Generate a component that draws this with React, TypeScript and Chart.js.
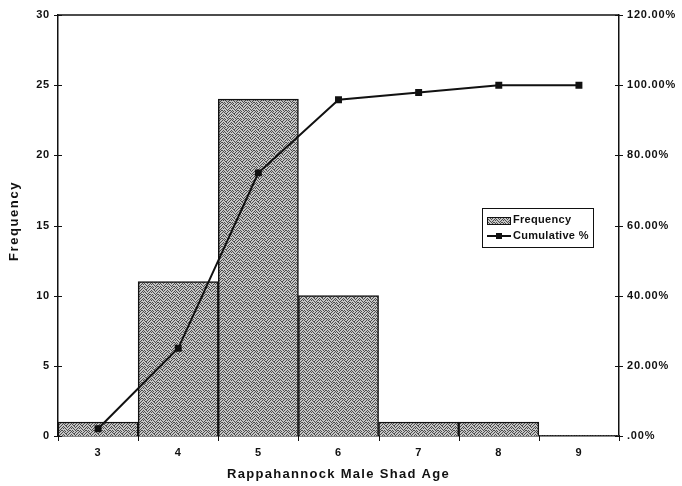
import React, { useEffect, useRef } from "react";
import { Chart, registerables } from "chart.js";

Chart.register(...registerables);

const ages = ["3", "4", "5", "6", "7", "8", "9"];
const frequency = [1, 11, 24, 10, 1, 1, 0];
const cumulativePct = [2.08, 25.0, 75.0, 95.83, 97.92, 100.0, 100.0];
const xTitle = "Rappahannock Male Shad Age";
const yTitle = "Frequency";
const legendLabels = ["Frequency", "Cumulative %"];

const FONT = "'Liberation Sans', Arial, sans-serif";

function makePattern(): CanvasPattern | string {
  const c = document.createElement("canvas");
  c.width = 8;
  c.height = 8;
  const g = c.getContext("2d");
  if (!g) return "#999999";
  g.fillStyle = "#c6c6c6";
  g.fillRect(0, 0, 8, 8);
  g.fillStyle = "#4c4c4c";
  const dots = [
    [0, 0], [3, 0], [6, 0], [1, 1], [5, 1], [2, 2], [4, 2], [7, 2],
    [0, 3], [3, 3], [6, 3], [1, 4], [5, 4], [7, 4], [2, 5], [4, 5],
    [0, 6], [3, 6], [6, 6], [1, 7], [4, 7], [7, 7], [5, 6], [2, 1],
  ];
  dots.forEach(([x, y]) => g.fillRect(x, y, 1, 1));
  const p = g.createPattern(c, "repeat");
  return p || "#999999";
}

export default function App() {
  const ref = useRef<HTMLCanvasElement | null>(null);

  useEffect(() => {
    if (!ref.current) return;
    const pattern = makePattern();

    const spacing = {
      id: "spacing",
      beforeDraw(chart: any) {
        (chart.ctx as any).letterSpacing = "0.8px";
      },
    };

    const decor = {
      id: "decor",
      afterDraw(chart: any) {
        const ctx = chart.ctx;
        const a = chart.chartArea;
        const x = chart.scales.x;
        const y = chart.scales.y;
        const y1 = chart.scales.y1;
        ctx.save();
        ctx.strokeStyle = "#111";
        ctx.lineWidth = 1.5;
        ctx.beginPath();
        ctx.moveTo(a.left, a.top);
        ctx.lineTo(a.right, a.top);
        ctx.stroke();
        ctx.lineWidth = 1;
        [0, 5, 10, 15, 20, 25, 30].forEach((v) => {
          const py = Math.round(y.getPixelForValue(v)) + 0.5;
          ctx.beginPath();
          ctx.moveTo(a.left - 4, py);
          ctx.lineTo(a.left + 4, py);
          ctx.stroke();
        });
        [0, 20, 40, 60, 80, 100, 120].forEach((v) => {
          const py = Math.round(y1.getPixelForValue(v)) + 0.5;
          ctx.beginPath();
          ctx.moveTo(a.right - 4, py);
          ctx.lineTo(a.right + 4, py);
          ctx.stroke();
        });
        const n = ages.length;
        for (let i = 0; i <= n; i++) {
          const px = Math.round(x.left + (i * (x.right - x.left)) / n) + 0.5;
          ctx.beginPath();
          ctx.moveTo(px, a.bottom);
          ctx.lineTo(px, a.bottom + 5);
          ctx.stroke();
        }
        ctx.fillStyle = "#111";
        ctx.font = `bold 13px ${FONT}`;
        (ctx as any).letterSpacing = "1.3px";
        ctx.textAlign = "center";
        ctx.textBaseline = "middle";
        ctx.fillText(xTitle, (a.left + a.right) / 2, 474);
        ctx.save();
        (ctx as any).letterSpacing = "1.6px";
        ctx.translate(14, 221);
        ctx.rotate(-Math.PI / 2);
        ctx.fillText(yTitle, 0, 0);
        ctx.restore();
        const lx = 482, ly = 208, lw = 111, lh = 39;
        ctx.fillStyle = "#fff";
        ctx.fillRect(lx, ly, lw, lh);
        ctx.lineWidth = 1;
        ctx.strokeStyle = "#111";
        ctx.strokeRect(lx + 0.5, ly + 0.5, lw, lh);
        ctx.fillStyle = pattern as any;
        ctx.fillRect(487, 217, 23, 7);
        ctx.strokeRect(487.5, 217.5, 23, 7);
        ctx.lineWidth = 2;
        ctx.beginPath();
        ctx.moveTo(487, 236);
        ctx.lineTo(511, 236);
        ctx.stroke();
        ctx.fillStyle = "#111";
        ctx.fillRect(496, 233, 6, 6);
        ctx.font = `bold 11px ${FONT}`;
        (ctx as any).letterSpacing = "0.3px";
        ctx.textAlign = "left";
        ctx.fillText(legendLabels[0], 513, 220);
        ctx.fillText(legendLabels[1], 513, 236);
        ctx.restore();
        (ctx as any).letterSpacing = "0px";
      },
    };

    const chart = new Chart(ref.current, {
      type: "bar",
      data: {
        labels: ages,
        datasets: [
          {
            type: "line",
            label: legendLabels[1],
            data: cumulativePct,
            yAxisID: "y1",
            borderColor: "#111",
            backgroundColor: "#111",
            borderWidth: 2,
            pointStyle: "rect",
            pointRadius: 3.5,
            tension: 0,
            order: 1,
          } as any,
          {
            type: "bar",
            label: legendLabels[0],
            data: frequency,
            yAxisID: "y",
            backgroundColor: pattern as any,
            borderColor: "#111",
            borderWidth: (c: any) => (c.raw === 0 ? 0 : 1.5),
            barPercentage: 1,
            categoryPercentage: 1,
            borderSkipped: "bottom",
            order: 2,
          } as any,
        ],
      },
      options: {
        animation: false,
        responsive: false,
        maintainAspectRatio: false,
        layout: { padding: { top: 15, left: 0, right: 0, bottom: 0 } },
        plugins: { legend: { display: false }, tooltip: { enabled: false } },
        scales: {
          x: {
            grid: { display: false, drawTicks: false },
            border: { display: true, color: "#111", width: 1.5 },
            ticks: {
              color: "#111",
              font: { family: FONT, size: 11, weight: "bold" },
              padding: 10,
              maxRotation: 0,
            },
            afterFit(s: any) {
              s.height = 50;
            },
          },
          y: {
            position: "left",
            min: 0,
            max: 30,
            grid: { display: false, drawTicks: false },
            border: { display: true, color: "#111", width: 1.5 },
            ticks: {
              stepSize: 5,
              color: "#111",
              font: { family: FONT, size: 11, weight: "bold" },
              padding: 8,
            },
            afterFit(s: any) {
              s.width = 58;
            },
          },
          y1: {
            position: "right",
            min: 0,
            max: 120,
            grid: { display: false, drawTicks: false },
            border: { display: true, color: "#111", width: 1.5 },
            ticks: {
              stepSize: 20,
              color: "#111",
              font: { family: FONT, size: 11, weight: "bold" },
              padding: 8,
              callback: (v: any) => (Number(v) === 0 ? ".00%" : Number(v).toFixed(2) + "%"),
            },
            afterFit(s: any) {
              s.width = 63;
            },
          },
        },
      },
      plugins: [spacing, decor],
    });
    return () => chart.destroy();
  }, []);

  return (
    <div style={{ position: "fixed", left: 0, top: 0, width: 682, height: 486, background: "#fff" }}>
      <canvas ref={ref} width={682} height={486} style={{ width: 682, height: 486, display: "block" }} />
    </div>
  );
}
